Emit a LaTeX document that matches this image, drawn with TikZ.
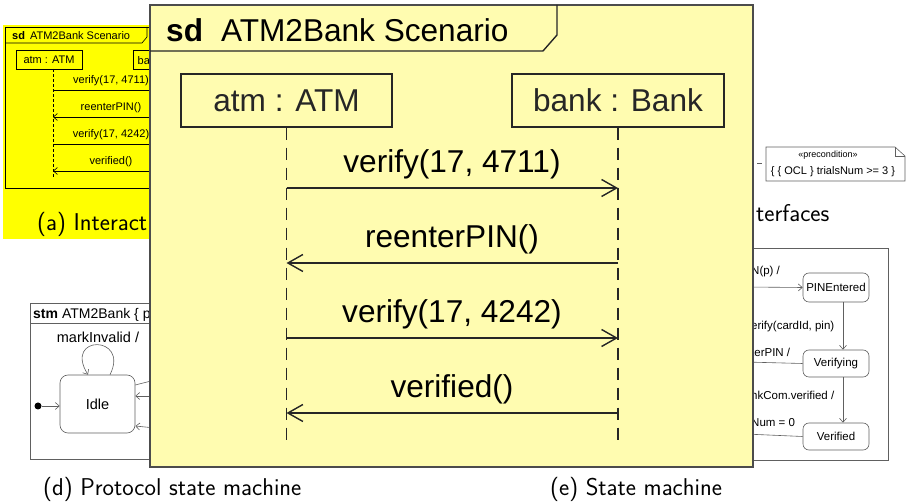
\documentclass[tikz,border=0pt]{standalone}
\usepackage{fontspec}
\newfontfamily\umlsf{Liberation Sans}
\usetikzlibrary{arrows.meta,positioning}
\definecolor{hilite}{RGB}{255,255,0}
\definecolor{zoomfill}{RGB}{255,252,176}
\begin{document}
\begin{tikzpicture}[x=1pt,y=-1pt,inner sep=0pt]
  \tikzset{capt/.style={font=\sffamily\fontsize{24.3}{28}\selectfont,anchor=base west},
    uml/.style={font=\umlsf\fontsize{#1}{#1}\selectfont},
    thin/.style={line width=.6pt},
    smline/.style={draw=gray!75!black,line width=.6pt},
    state/.style={smline,fill=white,rounded corners=6pt,minimum width=66pt,minimum height=27pt,uml=11.5},
    sbarb/.style={-{Straight Barb[length=4pt,width=7pt]}},
    bbarb/.style={-{Straight Barb[length=15pt,width=17pt]}},
    big/.style={line width=1.4pt,black!85},
    lhead/.style={draw,big,uml=31.6,minimum width=211pt,minimum height=53pt}}
  \useasboundingbox (0,0) rectangle (906,502);
  \fill[hilite] (3,25) rectangle (150,239);
  \draw[thin] (160,188) -| (5,27) -- (160,27);
  \draw[thin] (5,43) -- (142,43) -- (147,37) -- (147,27);
  \node[uml=11,anchor=base west] (sdsmall) at (12,39.5) {\textbf{sd}\hspace{5pt}ATM2Bank Scenario};
  \node[draw,thin,uml=11,minimum width=66pt,minimum height=19pt] (atmsmall) at (49,59.5) {atm : ATM};
  \draw[thin] (160,50) -| (133,69) -- (160,69);
  \node[uml=11,anchor=base west] (banksmall) at (137.5,65) {ba};
  \coordinate (la) at (53,69); \coordinate (lb) at (169,69);
  \draw[thin,dash pattern=on 3pt off 2pt] (la) -- (53,178);
  \foreach \y/\txt/\a/\b [count=\i] in {90/{verify(17, 4711)}/la/lb, 117/reenterPIN()/lb/la, 144/{verify(17, 4242)}/la/lb, 171/verified()/lb/la}
    {\draw[thin,sbarb] (\a |- 0,\y) -- (\b |- 0,\y); \node[uml=11,anchor=base] (smsg\i) at (111,\y-6) {\txt};}
  \node[capt] (capa) at (37,231) {(a) Interact};
  \draw[smline,fill=white] (766,147) -- (895,147) -- (905,156) -- (905,181) -- (766,181) -- cycle;
  \draw[smline] (895,147) |- (905,156);
  \node[uml=9,anchor=base] (pre) at (828,158) {«precondition»};
  \node[uml=11,anchor=base] (ocl) at (833,175) {\{ \{ OCL \} trialsNum >= 3 \}};
  \draw[smline] (757,163) -- (762,163);
  \node[capt] (capc) at (756,222) {terfaces};
  \draw[smline] (30,303) rectangle (160,459);
  \draw[smline] (30,323) -- (160,323);
  \node[uml=14,anchor=base west] (stm) at (33,318.5) {\textbf{stm}\hspace{4pt}ATM2Bank \{ p};
  \node[state,uml=14.5,rounded corners=8pt,minimum width=75pt,minimum height=58pt] (idle) at (97.5,404) {Idle};
  \node[circle,fill,minimum size=7pt] (init) at (38,406) {};
  \draw[smline,sbarb] (init) -- (init -| idle.west);
  \draw[smline,sbarb] ([xshift=12.5pt]idle.north) .. controls +(20,-40) and +(-25,-40) .. ([xshift=-9.5pt]idle.north);
  \node[uml=14.5,anchor=base] (mark) at (98,343) {markInvalid /};
  \coordinate (d1) at (155,380); \coordinate (d2) at (155,396); \coordinate (d3) at (155,428);
  \draw[smline] ([yshift=19pt]idle.east) -- (d1);
  \draw[smline,sbarb] (d2) -- ([yshift=8pt]idle.east);
  \draw[smline,sbarb] (d3) -- ([yshift=-22pt]idle.east);
  \node[capt] (capd) at (43,496) {(d) Protocol state machine};
  \draw[smline] (740,248) rectangle (888,460);
  \node[state,minimum height=29pt] (pin) at (836,287.5) {PINEntered};
  \node[state] (vfy) at (836,363.5) {Verifying};
  \node[state] (vfd) at (836,436.5) {Verified};
  \coordinate (e1) at (745,287); \coordinate (e2) at (745,362); \coordinate (e3) at (745,434);
  \draw[smline,sbarb] (e1) -- (pin.west);
  \draw[smline,sbarb] ([xshift=7pt]pin.south) -- ([xshift=7pt]vfy.north);
  \draw[smline,sbarb] ([xshift=7pt]vfy.south) -- ([xshift=7pt]vfd.north);
  \draw[smline] (e2) -- (vfy.west);
  \draw[smline] (e3) -- (vfd.west);
  \foreach \y/\txt [count=\i] in {275/{N(p) /}, 330/{erify(cardId, pin)}, 357/{terPIN /}, 400/{nkCom.verified /}, 427/{Num = 0}}
    \node[uml=11.5,anchor=base west] (etr\i) at (751,\y) {\txt};
  \node[capt] (cape) at (550,496) {(e) State machine};
  \draw[line width=1.8pt,draw=black!70,fill=zoomfill] (150,5) rectangle (753,467);
  \draw[big] (150,51) -- (543,51) -- (557,35) -- (557,5);
  \node[uml=31.6,anchor=base west] (title) at (166,41.5) {\textbf{sd}\hspace{18pt}ATM2Bank Scenario};
  \node[lhead] (atm) at (286.5,100.5) {atm : ATM};
  \node[lhead,minimum width=212pt] (bank) at (618,100.5) {bank : Bank};
  \coordinate (atmend) at (286.5,440); \coordinate (bankend) at (618,440);
  \draw[big,dash pattern=on 12pt off 8pt] (atm) -- (atmend) (bank) -- (bankend);
  \foreach \y/\txt/\a/\b [count=\i] in {188/{verify(17, 4711)}/atm/bank, 263/reenterPIN()/bank/atm, 338/{verify(17, 4242)}/atm/bank, 413/verified()/bank/atm}
    {\draw[big,bbarb] (\a |- 0,\y) -- (\b |- 0,\y); \node[uml=31.6,anchor=base] (msg\i) at (452,\y-15) {\txt};}
\end{tikzpicture}
\end{document}
